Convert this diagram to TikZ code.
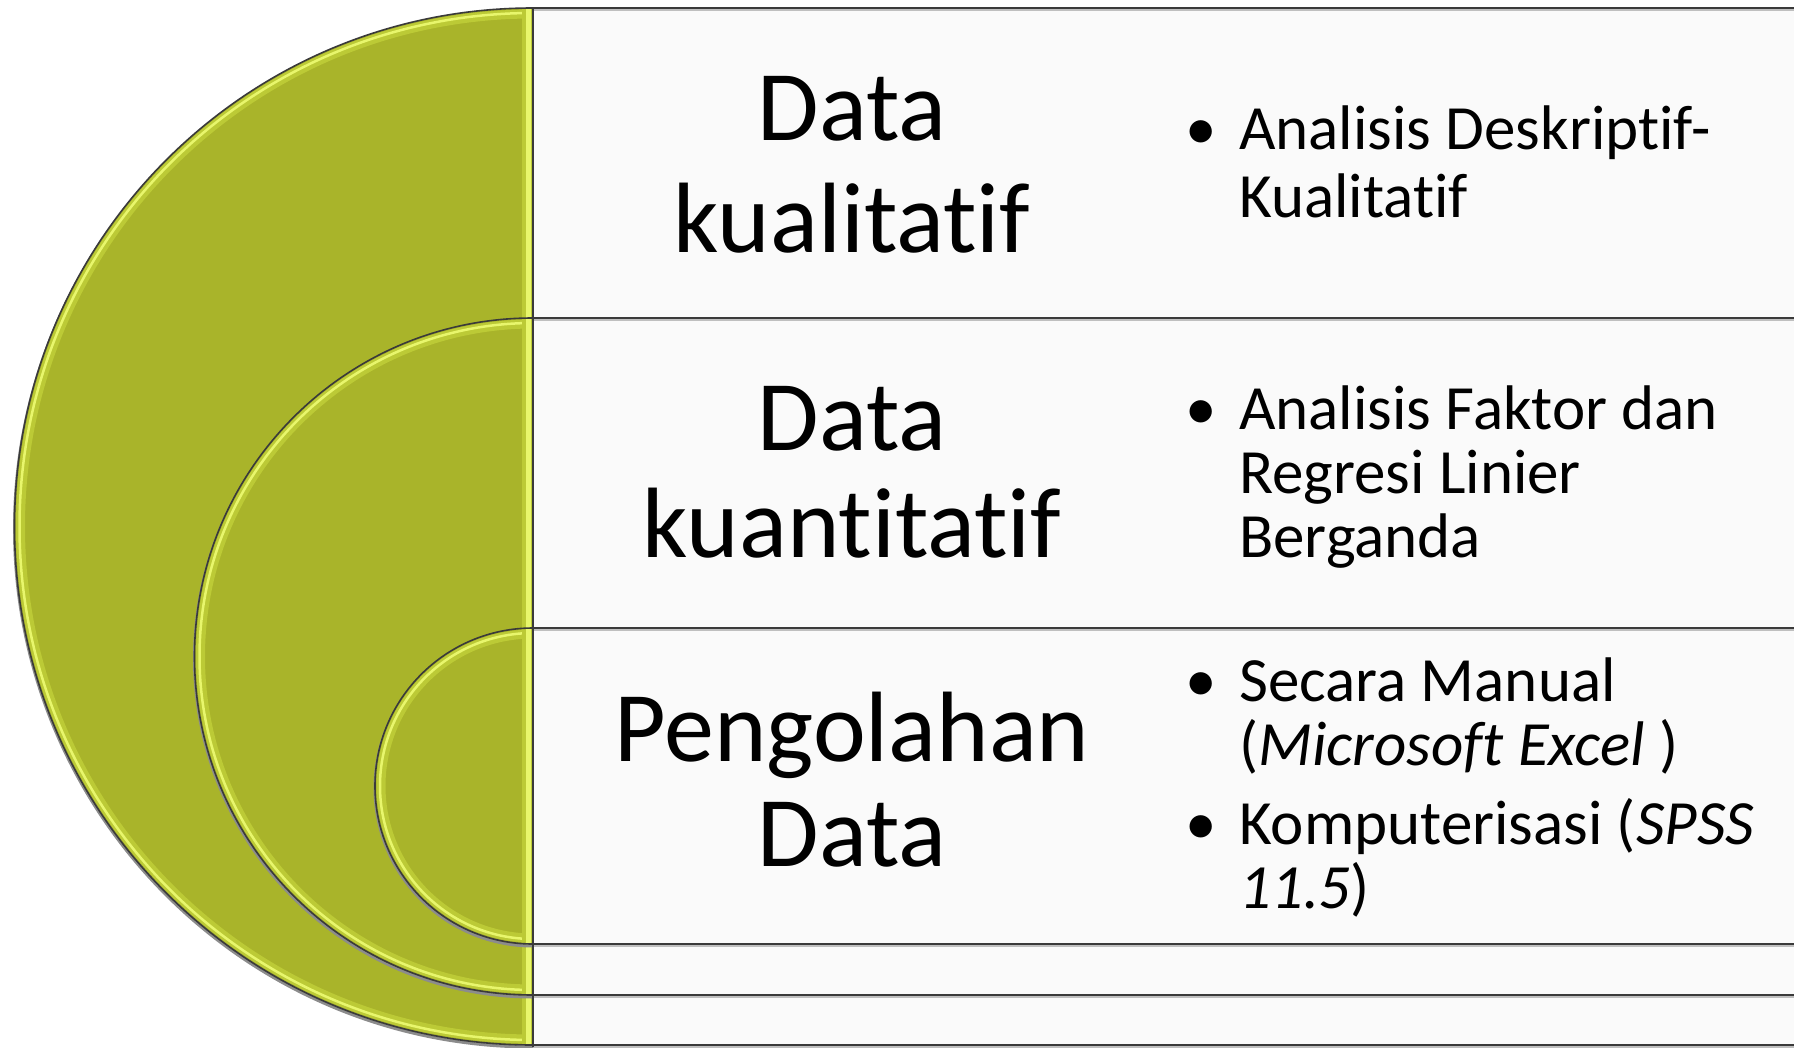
\documentclass[tikz,border=0pt]{standalone}
\usepackage{fontspec}
\setmainfont[Ligatures={NoCommon}]{Carlito}
\definecolor{leaf}{HTML}{A9B42A}
\definecolor{leafmid}{HTML}{BCCA36}
\definecolor{leafhi}{HTML}{E8F66C}
\definecolor{panel}{HTML}{FAFAFA}
\definecolor{edge}{HTML}{3A3A3A}
\tikzset{
  titletext/.style={anchor=base, inner sep=0pt, font=\fontsize{100}{106}\selectfont},
  itemtext/.style={anchor=base west, inner sep=0pt, font=\fontsize{63}{66}\selectfont},
  dottext/.style={anchor=base, inner sep=0pt, font=\fontsize{63}{66}\selectfont},
  rowline/.style={edge, line width=2.2pt},
  rowshade/.style={black!25, line width=2pt},
}
% one layer of the nested target: a light panel on the right and a half disc on the left
% #1 = vertical centre, #2 = radius
\newcommand\targetlayer[2]{%
  \fill[panel] (533,#1-#2) rectangle (1800,#1+#2);
  \draw[rowshade] (533,#1-#2+2.2) -- (1800,#1-#2+2.2);
  \draw[rowshade] (533,#1+#2+2.2) -- (1800,#1+#2+2.2);
  \draw[rowline] (533,#1-#2) -- (1800,#1-#2);
  \draw[rowline] (533,#1+#2) -- (1800,#1+#2);
  \begin{scope}
    \clip (0,0) rectangle (533,1047);
    \draw[black!45, line width=3pt] (533,#1+2) circle[radius=#2];
    \fill[leaf] (533,#1) circle[radius=#2];
    \begin{scope}
      \clip (533,#1) circle[radius=#2];
      \draw[leafmid, line width=9pt] (533,#1) circle[radius=#2-6];
      \draw[leafhi, line width=2.5pt] (533,#1) circle[radius=#2-5];
      \fill[leafmid] (522,#1-#2) rectangle (533,#1+#2);
      \fill[leafhi] (525.5,#1-#2) rectangle (530.5,#1+#2);
    \end{scope}
    \draw[edge, line width=1.6pt] (533,#1) circle[radius=#2];
  \end{scope}
}
\begin{document}
\begin{tikzpicture}[x=1pt,y=-1pt]
\useasboundingbox (0,0) rectangle (1794,1047);
\fill[white] (0,0) rectangle (1794,1047);

\targetlayer{526.5}{518.5}
\targetlayer{656.5}{338.5}
\targetlayer{786}{158}

% divider between the discs and the panels
\draw[edge, line width=2.2pt] (533,8) -- (533,1047);

% titles
\node[titletext] (t1a) at (852,140) {Data};
\node[titletext] (t1b) at (852,252) {kualitatif};
\node[titletext] (t2a) at (852,450) {Data};
\node[titletext] (t2b) at (852,557) {kuantitatif};
\node[titletext] (t3a) at (852,761) {Pengolahan};
\node[titletext] (t3b) at (852,866) {Data};

% bullet items
\node[dottext] (d1) at (1201,149) {•};
\node[itemtext] (i1a) at (1239,149) {Analisis Deskriptif-};
\node[itemtext] (i1b) at (1239,217) {Kualitatif};

\node[dottext] (d2) at (1201,429) {•};
\node[itemtext] (i2a) at (1239,429) {Analisis Faktor dan};
\node[itemtext] (i2b) at (1239,493) {Regresi Linier};
\node[itemtext] (i2c) at (1239,557) {Berganda};

\node[dottext] (d3) at (1201,701) {•};
\node[itemtext] (i3a) at (1239,701) {Secara Manual};
\node[itemtext] (i3b) at (1239,765) {(\textit{Microsoft Excel })};
\node[dottext] (d4) at (1201,844) {•};
\node[itemtext] (i4a) at (1239,844) {Komputerisasi (\textit{SPSS}};
\node[itemtext] (i4b) at (1239,908) {\textit{11.5})};
\end{tikzpicture}
\end{document}
